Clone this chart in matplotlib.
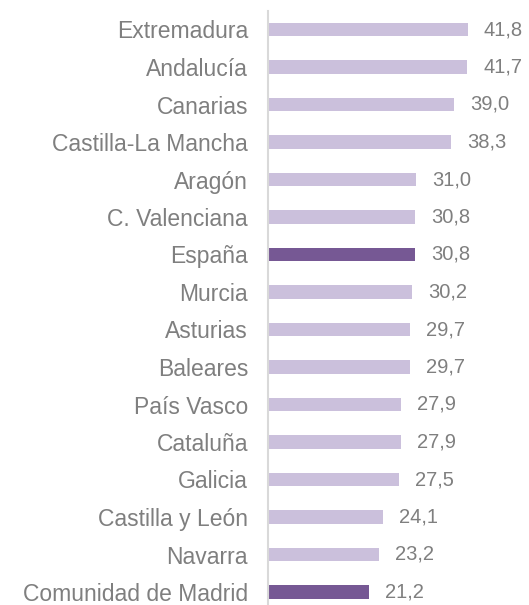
import numpy as np
import matplotlib
matplotlib.use("Agg")
from matplotlib import pyplot as plt

regions = ["Extremadura", "Andalucía", "Canarias", "Castilla-La Mancha", "Aragón",
           "C. Valenciana", "España", "Murcia", "Asturias", "Baleares", "País Vasco",
           "Cataluña", "Galicia", "Castilla y León", "Navarra", "Comunidad de Madrid"]
values = [41.8, 41.7, 39.0, 38.3, 31.0, 30.8, 30.8, 30.2, 29.7, 29.7, 27.9,
          27.9, 27.5, 24.1, 23.2, 21.2]
highlight = ["España", "Comunidad de Madrid"]

LIGHT = "#CBC0DC"
DARK = "#765894"
TEXT = "#7F7F7F"

plt.rcParams['font.family'] = ['Liberation Sans', 'DejaVu Sans']

fig = plt.figure(figsize=(5.29, 6.05), dpi=100)
# axes: x=0 at ~267px, row pitch ~37.5px, first row centred at y~29.5px
pitch = 37.5
top = 29.5
ax = fig.add_axes([267.5 / 529, 1 - (top + 15.5 * pitch) / 605,
                   1 - 267.5 / 529, 16 * pitch / 605])

y = np.arange(len(regions))
colors = [DARK if r in highlight else LIGHT for r in regions]
ax.barh(y, values, height=0.36, color=colors)

for yi, v in zip(y, values):
    ax.annotate(f"{v:.1f}".replace(".", ","), xy=(v, yi), xytext=(11.5, 0),
                textcoords="offset points", ha="left", va="center",
                fontsize=14.5, color=TEXT)

ax.set_xlim(0, (529 - 267.5) / 4.79)
ax.set_ylim(15.5, -0.5)
ax.set_yticks(y)
ax.set_yticklabels(regions, fontsize=16.5, color=TEXT)
ax.tick_params(axis="y", length=0, pad=14)
ax.set_xticks([])
for s in ["top", "right", "bottom"]:
    ax.spines[s].set_visible(False)
ax.spines["left"].set_color("#D9D9D9")
ax.spines["left"].set_linewidth(1.5)
ax.set_facecolor("none")

fig.savefig("out.png", dpi=100)
